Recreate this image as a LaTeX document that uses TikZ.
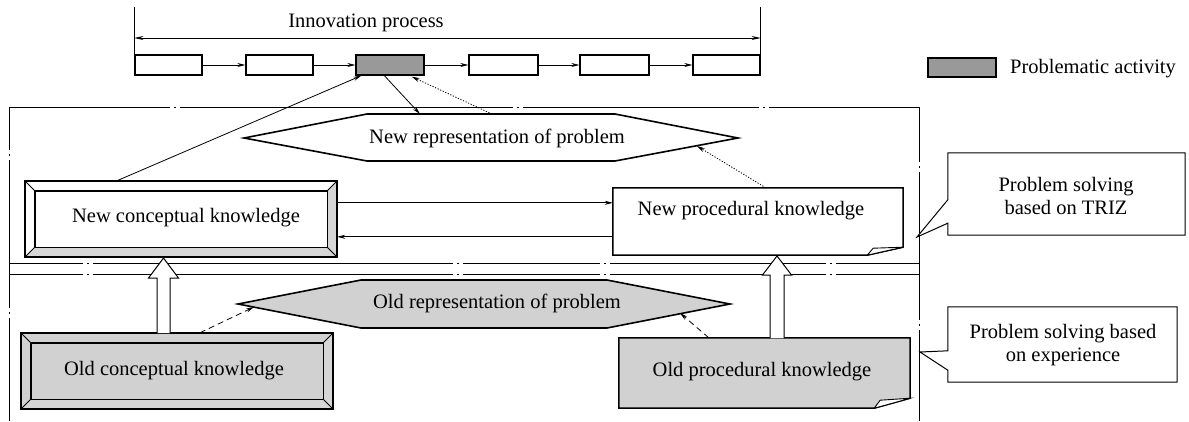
\documentclass[tikz,border=0pt]{standalone}
\usepackage{fontspec}
\setmainfont{Liberation Serif}
\usetikzlibrary{arrows.meta,calc}
\definecolor{pgray}{gray}{0.6}
\definecolor{lgray}{gray}{0.82}
\definecolor{bgray}{gray}{0.84}
\newcommand{\bevelbox}[3]{%
  \fill[#3] (#1.south west) -- (#1.south east) -- ($(#1.south east)+(-#2,-#2)$) -- ($(#1.south west)+(#2,-#2)$) -- cycle;
  \fill[#3] (#1.south east) -- (#1.north east) -- ($(#1.north east)+(-#2,#2)$) -- ($(#1.south east)+(-#2,-#2)$) -- cycle;
  \draw[line width=1.4pt] ($(#1.north west)+(#2,#2)$) rectangle ($(#1.south east)+(-#2,-#2)$);
  \draw[line width=1pt] (#1.north west) -- ($(#1.north west)+(#2,#2)$)
     (#1.north east) -- ($(#1.north east)+(-#2,#2)$)
     (#1.south west) -- ($(#1.south west)+(#2,-#2)$)
     (#1.south east) -- ($(#1.south east)+(-#2,-#2)$);
  \draw[line width=1.6pt] (#1.north west) rectangle (#1.south east);
}
\begin{document}
\begin{tikzpicture}[x=1pt,y=-1pt,
  font=\fontsize{20.5}{23}\selectfont,
  pbox/.style={draw,line width=1.3pt,minimum height=20pt,inner sep=0pt},
  parr/.style={line width=0.8pt,-{Stealth[length=8pt,width=4pt]}},
  arr/.style={line width=0.8pt,-{Stealth[length=8pt,width=4pt]}},
  dotl/.style={dash pattern=on 1.2pt off 1.6pt},
  dashl/.style={dash pattern=on 6pt off 4pt},
  fr/.style={line width=0.8pt},
  hexs/.style={line width=1.6pt},
  hollow/.style={draw,fill=white,line width=1pt},
  callout/.style={draw,line width=1pt,fill=white},
  bevelnode/.style={inner sep=0pt,minimum width=312pt,minimum height=76pt},
  foldnode/.style={inner sep=0pt},
  txt/.style={inner sep=0pt}
]
\useasboundingbox (0,0) rectangle (1189,421);

% ---------- frame ----------
\coordinate (f1) at (9,107);
\coordinate (f2) at (919,107);
\coordinate (f3) at (9,421);
\coordinate (f4) at (919,421);
\coordinate (s1a) at (9,263);
\coordinate (s1b) at (919,263);
\coordinate (s2a) at (9,274);
\coordinate (s2b) at (919,274);
\draw[fr,dash pattern=on 161pt off 4pt on 2pt off 4pt on 333pt off 4pt on 2pt off 4pt on 236pt off 4pt on 2pt off 4pt on 300pt] (f1) -- (f2);
\draw[fr,dash pattern=on 43pt off 4pt on 2pt off 4pt on 148pt off 4pt on 2pt off 4pt on 300pt] (f1) -- (f3);
\draw[fr,dash pattern=on 55pt off 4pt on 2pt off 4pt on 148pt off 4pt on 2pt off 4pt on 300pt] (f2) -- (f4);
\draw[fr,dash pattern=on 74pt off 4pt on 2pt off 4pt on 360pt off 4pt on 2pt off 4pt on 137pt off 4pt on 2pt off 4pt on 216pt off 4pt on 2pt off 4pt on 300pt] (s1a) -- (s1b);
\draw[fr,dash pattern=on 74pt off 4pt on 2pt off 4pt on 360pt off 4pt on 2pt off 4pt on 137pt off 4pt on 2pt off 4pt on 216pt off 4pt on 2pt off 4pt on 300pt] (s2a) -- (s2b);

% ---------- innovation process ----------
\node[pbox,minimum width=67pt] (p1) at (168.5,65) {};
\node[pbox,minimum width=67pt] (p2) at (279.5,65) {};
\node[pbox,fill=pgray,minimum width=68pt] (p3) at (390,65) {};
\node[pbox,minimum width=69pt] (p4) at (503.5,65) {};
\node[pbox,minimum width=69pt] (p5) at (614.5,65) {};
\node[pbox,minimum width=67pt] (p6) at (726.5,65) {};
\draw[parr] (p1) -- (p2);
\draw[parr] (p2) -- (p3);
\draw[parr] (p3) -- (p4);
\draw[parr] (p4) -- (p5);
\draw[parr] (p5) -- (p6);
\coordinate (bl) at (p1.west |- 0,7);
\coordinate (br) at (p6.east |- 0,7);
\draw[line width=1pt] (bl) -- (p1.south west);
\draw[line width=1pt] (br) -- (p6.south east);
\coordinate (al) at (p1.west |- 0,38);
\coordinate (ar) at (p6.east |- 0,38);
\draw[line width=0.8pt,{Stealth[length=9pt,width=4pt]}-{Stealth[length=9pt,width=4pt]}] (al) -- (ar);
\node[txt,anchor=base] (ip) at (366,27) {Innovation process};

% ---------- legend ----------
\node[pbox,fill=pgray,minimum width=68pt,minimum height=19pt] (lg) at (962,67.5) {};
\node[txt,anchor=base west] (lgt) at (1010,73) {Problematic activity};

% ---------- new representation ----------
\coordinate (hL) at (244,138);
\coordinate (hTL) at (367,114);
\coordinate (hTR) at (615,114);
\coordinate (hR) at (738,138);
\coordinate (hBR) at (615,161);
\coordinate (hBL) at (367,161);
\draw[hexs,fill=white] (hL) -- (hTL) -- (hTR) -- (hR) -- (hBR) -- (hBL) -- cycle;
\node[txt] (nh) at (497,138) {New representation of problem};

% ---------- old representation ----------
\coordinate (oL) at (238,304);
\coordinate (oTL) at (361,280);
\coordinate (oTR) at (607,280);
\coordinate (oR) at (730,304);
\coordinate (oBR) at (607,328);
\coordinate (oBL) at (361,328);
\draw[hexs,fill=lgray] (oL) -- (oTL) -- (oTR) -- (oR) -- (oBR) -- (oBL) -- cycle;
\node[txt] (oh) at (497,303) {Old representation of problem};

% ---------- conceptual knowledge (bevel boxes) ----------
\node[bevelnode,fill=white] (nc) at (181,219) {};
\bevelbox{nc}{10}{bgray}
\node[txt] (nct) at (186,218) {New conceptual knowledge};

\node[bevelnode,fill=lgray] (oc) at (177,371) {};
\bevelbox{oc}{10}{bgray}
\node[txt] (oct) at (174,371) {Old conceptual knowledge};

% ---------- procedural knowledge (folded boxes) ----------
\node[foldnode,minimum width=290pt,minimum height=67pt] (np) at (758,221.5) {};
\draw[line width=1.5pt,fill=white] (np.north west) -- (np.north east) -- ($(np.south east)+(0,-8)$) -- ($(np.south east)+(-36,0)$) -- (np.south west) -- cycle;
\draw[line width=0.9pt,fill=white] ($(np.south east)+(-36,0)$) -- ($(np.south east)+(-30,-7)$) -- ($(np.south east)+(0,-8)$) .. controls ($(np.south east)+(-14,-5)$) .. cycle;
\node[txt] (npt) at (751,211) {New procedural knowledge};

\node[foldnode,minimum width=291pt,minimum height=70pt] (op) at (764.5,373) {};
\draw[line width=1.5pt,fill=lgray] (op.north west) -- (op.north east) -- ($(op.south east)+(0,-10)$) -- ($(op.south east)+(-36,0)$) -- (op.south west) -- cycle;
\draw[line width=0.9pt,fill=white] ($(op.south east)+(-36,0)$) -- ($(op.south east)+(-30,-8)$) -- ($(op.south east)+(0,-10)$) .. controls ($(op.south east)+(-14,-6)$) .. cycle;
\node[txt] (opt) at (762,372) {Old procedural knowledge};

% ---------- connectors ----------
\coordinate (ncR1) at ($(nc.north east)+(0,22)$);
\coordinate (npL1) at ($(np.north west)+(0,15)$);
\coordinate (npL2) at ($(np.north west)+(0,49)$);
\coordinate (ncR2) at ($(nc.north east)+(0,56)$);
\draw[arr] (ncR1) -- (npL1);
\draw[arr] (npL2) -- (ncR2);

\coordinate (ncT) at ($(nc.north west)+(92,0)$);
\coordinate (p3a) at ($(p3.south west)+(6,0)$);
\draw[arr] (ncT) -- (p3a);
\coordinate (p3b) at ($(p3.south west)+(29,0)$);
\coordinate (nhT1) at (420,114);
\draw[arr] (p3b) -- (nhT1);
\coordinate (p3c) at ($(p3.south east)+(-13,1)$);
\coordinate (nhT2) at (492,114);
\draw[arr,dotl] (nhT2) -- (p3c);
\coordinate (npT) at ($(np.north west)+(153,0)$);
\coordinate (nhE) at (697,146);
\draw[arr,dotl] (npT) -- (nhE);

\coordinate (ocT) at ($(oc.north west)+(179,0)$);
\coordinate (ohE1) at (254,307);
\draw[arr,dashl] (ocT) -- (ohE1);
\coordinate (opT) at ($(op.north west)+(90,0)$);
\coordinate (ohE2) at (680,313);
\draw[arr,dashl] (opT) -- (ohE2);

% hollow arrows
\coordinate (ha1s) at (163.5,333);
\coordinate (ha1e) at (163.5,258);
\draw[hollow] ($(ha1s)+(-6.5,0)$) -- ($(ha1e)+(-6.5,20)$) -- ($(ha1e)+(-15,20)$) -- (ha1e) -- ($(ha1e)+(15,20)$) -- ($(ha1e)+(6.5,20)$) -- ($(ha1s)+(6.5,0)$);
\coordinate (ha2s) at (777,338);
\coordinate (ha2e) at (777,256);
\draw[hollow] ($(ha2s)+(-7,0)$) -- ($(ha2e)+(-7,19)$) -- ($(ha2e)+(-14.5,19)$) -- (ha2e) -- ($(ha2e)+(14.5,19)$) -- ($(ha2e)+(7,19)$) -- ($(ha2s)+(7,0)$);

% ---------- callouts ----------
\node[txt,minimum width=237pt,minimum height=82pt] (c1) at (1066.5,194) {};
\coordinate (t1) at (917,237);
\draw[callout] (c1.north west) -- (c1.north east) -- (c1.south east) -- (c1.south west) -- ($(c1.south west)+(0,-12)$) -- (t1) -- ($(c1.north west)+(0,47)$) -- cycle;
\node[txt,align=center] (c1t) at (1066,196) {Problem solving\\based on TRIZ};

\node[txt,minimum width=229pt,minimum height=75pt] (c2) at (1062.5,344.5) {};
\coordinate (t2) at (920,352);
\draw[callout] (c2.north west) -- (c2.north east) -- (c2.south east) -- (c2.south west) -- ($(c2.south west)+(0,-12)$) -- (t2) -- ($(c2.north west)+(0,44)$) -- cycle;
\node[txt,align=center] (c2t) at (1063,345) {Problem solving based\\on experience};
\end{tikzpicture}
\end{document}
